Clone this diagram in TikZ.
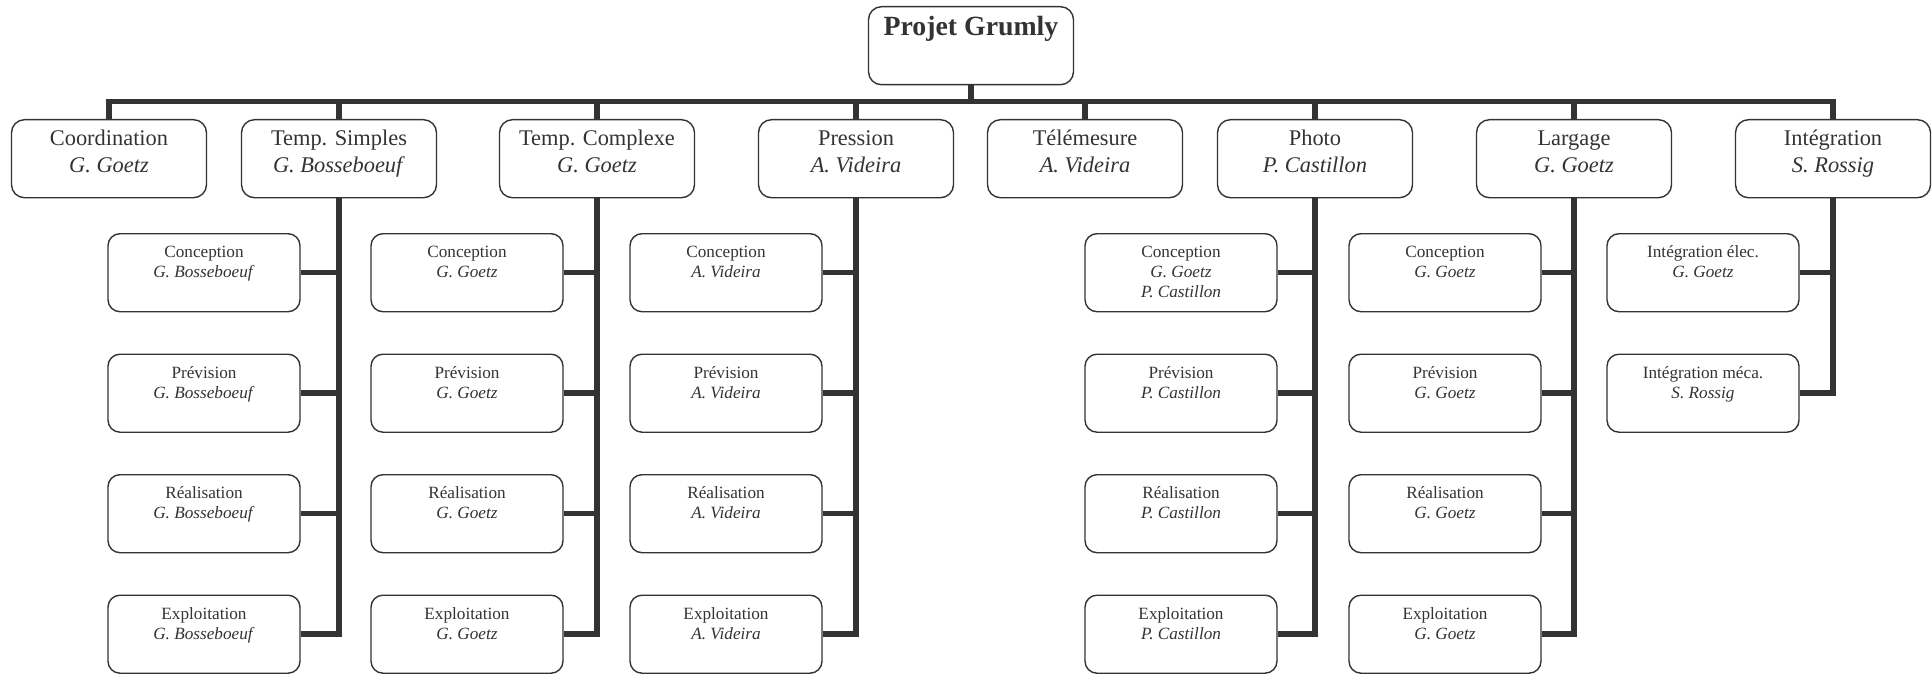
\documentclass[tikz,border=0pt]{standalone}
\usepackage{fontspec}
\setmainfont{Liberation Serif}
\usepackage{xcolor}
\usepackage{tikz}
\definecolor{linegray}{HTML}{333333}

\begin{document}
\begin{tikzpicture}[x=0.5pt, y=-0.5pt]
            % Define styles for the boxes and the links
            \tikzstyle{rootbox} = [draw=linegray, text=linegray, line width=0.7pt, rounded corners=6.5pt, inner sep=0pt, anchor=north,
                execute at begin node={\begin{minipage}[t][39pt][t]{102.5pt}\centering\fontsize{13.9}{16}\selectfont\bfseries\rule{0pt}{14.5pt}},
                execute at end node={\end{minipage}}]
            \tikzstyle{teambox} = [draw=linegray, text=linegray, line width=0.7pt, rounded corners=6.5pt, inner sep=0pt, anchor=north,
                execute at begin node={\begin{minipage}[t][39pt][t]{97.5pt}\centering\fontsize{11.2}{13.3}\selectfont\rule{0pt}{13pt}},
                execute at end node={\end{minipage}}]
            \tikzstyle{taskbox} = [draw=linegray, text=linegray, line width=0.7pt, rounded corners=6pt, inner sep=0pt, anchor=north,
                execute at begin node={\begin{minipage}[t][39pt][t]{96pt}\centering\fontsize{8.6}{10}\selectfont\rule{0pt}{12pt}},
                execute at end node={\end{minipage}}]
            \tikzstyle{link} = [draw=linegray, line width=2.75pt, line join=miter]

            \useasboundingbox (0,0) rectangle (1932,674);

            % Project box
            \node [rootbox] (root) at (971,6) {Projet Grumly};

            % Work packages
            \node [teambox] (coord) at (109,119) {Coordination\\\textit{G. Goetz}};
            \node [teambox] (simples) at (339,119) {Temp. Simples\\\textit{G. Bosseboeuf}};
            \node [teambox] (complexe) at (597,119) {Temp. Complexe\\\textit{G. Goetz}};
            \node [teambox] (pression) at (856,119) {Pression\\\textit{A. Videira}};
            \node [teambox] (telem) at (1085,119) {Télémesure\\\textit{A. Videira}};
            \node [teambox] (photo) at (1315,119) {Photo\\\textit{P. Castillon}};
            \node [teambox] (largage) at (1574,119) {Largage\\\textit{G. Goetz}};
            \node [teambox] (integ) at (1833,119) {Intégration\\\textit{S. Rossig}};

            % Tasks of Temp. Simples
            \node [taskbox] (simples1) at (204,233) {Conception\\\textit{G. Bosseboeuf}};
            \node [taskbox] (simples2) at (204,353.5) {Prévision\\\textit{G. Bosseboeuf}};
            \node [taskbox] (simples3) at (204,474) {Réalisation\\\textit{G. Bosseboeuf}};
            \node [taskbox] (simples4) at (204,594.5) {Exploitation\\\textit{G. Bosseboeuf}};

            % Tasks of Temp. Complexe
            \node [taskbox] (complexe1) at (467,233) {Conception\\\textit{G. Goetz}};
            \node [taskbox] (complexe2) at (467,353.5) {Prévision\\\textit{G. Goetz}};
            \node [taskbox] (complexe3) at (467,474) {Réalisation\\\textit{G. Goetz}};
            \node [taskbox] (complexe4) at (467,594.5) {Exploitation\\\textit{G. Goetz}};

            % Tasks of Pression
            \node [taskbox] (pression1) at (726,233) {Conception\\\textit{A. Videira}};
            \node [taskbox] (pression2) at (726,353.5) {Prévision\\\textit{A. Videira}};
            \node [taskbox] (pression3) at (726,474) {Réalisation\\\textit{A. Videira}};
            \node [taskbox] (pression4) at (726,594.5) {Exploitation\\\textit{A. Videira}};

            % Tasks of Photo
            \node [taskbox] (photo1) at (1181,233) {Conception\\\textit{G. Goetz}\\\textit{P. Castillon}};
            \node [taskbox] (photo2) at (1181,353.5) {Prévision\\\textit{P. Castillon}};
            \node [taskbox] (photo3) at (1181,474) {Réalisation\\\textit{P. Castillon}};
            \node [taskbox] (photo4) at (1181,594.5) {Exploitation\\\textit{P. Castillon}};

            % Tasks of Largage
            \node [taskbox] (largage1) at (1445,233) {Conception\\\textit{G. Goetz}};
            \node [taskbox] (largage2) at (1445,353.5) {Prévision\\\textit{G. Goetz}};
            \node [taskbox] (largage3) at (1445,474) {Réalisation\\\textit{G. Goetz}};
            \node [taskbox] (largage4) at (1445,594.5) {Exploitation\\\textit{G. Goetz}};

            % Tasks of Intégration
            \node [taskbox] (integ1) at (1703,233) {Intégration élec.\\\textit{G. Goetz}};
            \node [taskbox] (integ2) at (1703,353.5) {Intégration méca.\\\textit{S. Rossig}};

            % Main bar under the project box
            \coordinate (bar) at (0,101.5);
            \draw [link] (root.south) -- (root.south |- bar);
            \draw [link] (coord.north) -- (coord.north |- bar) -- (integ.north |- bar) -- (integ.north);
            \draw [link] (simples.north) -- (simples.north |- bar);
            \draw [link] (complexe.north) -- (complexe.north |- bar);
            \draw [link] (pression.north) -- (pression.north |- bar);
            \draw [link] (telem.north) -- (telem.north |- bar);
            \draw [link] (photo.north) -- (photo.north |- bar);
            \draw [link] (largage.north) -- (largage.north |- bar);

            % Links from the work packages to their tasks
            \draw [link] (simples.south) |- (simples4.east);
            \draw [link] (simples1.east) -- (simples1.east -| simples.south);
            \draw [link] (simples2.east) -- (simples2.east -| simples.south);
            \draw [link] (simples3.east) -- (simples3.east -| simples.south);

            \draw [link] (complexe.south) |- (complexe4.east);
            \draw [link] (complexe1.east) -- (complexe1.east -| complexe.south);
            \draw [link] (complexe2.east) -- (complexe2.east -| complexe.south);
            \draw [link] (complexe3.east) -- (complexe3.east -| complexe.south);

            \draw [link] (pression.south) |- (pression4.east);
            \draw [link] (pression1.east) -- (pression1.east -| pression.south);
            \draw [link] (pression2.east) -- (pression2.east -| pression.south);
            \draw [link] (pression3.east) -- (pression3.east -| pression.south);

            \draw [link] (photo.south) |- (photo4.east);
            \draw [link] (photo1.east) -- (photo1.east -| photo.south);
            \draw [link] (photo2.east) -- (photo2.east -| photo.south);
            \draw [link] (photo3.east) -- (photo3.east -| photo.south);

            \draw [link] (largage.south) |- (largage4.east);
            \draw [link] (largage1.east) -- (largage1.east -| largage.south);
            \draw [link] (largage2.east) -- (largage2.east -| largage.south);
            \draw [link] (largage3.east) -- (largage3.east -| largage.south);

            \draw [link] (integ.south) |- (integ2.east);
            \draw [link] (integ1.east) -- (integ1.east -| integ.south);
        \end{tikzpicture}
\end{document}
